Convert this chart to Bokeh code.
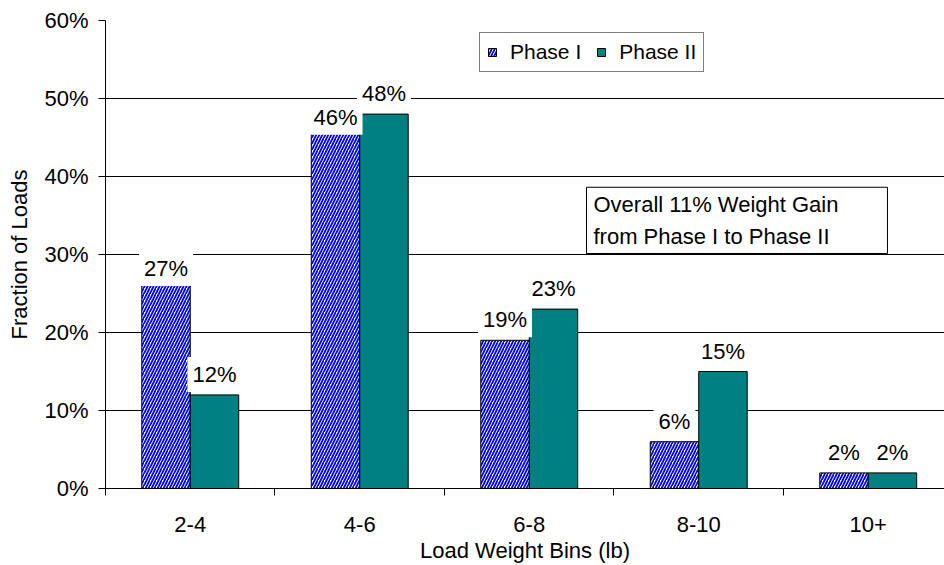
from bokeh.plotting import figure
from bokeh.models import (ColumnDataSource, FixedTicker, Range1d, Legend, LegendItem,
                          Label, PrintfTickFormatter)
from bokeh.core.properties import value
from bokeh.embed import file_html
from bokeh.resources import INLINE

# ---- data ----
categories = ["2-4", "4-6", "6-8", "8-10", "10+"]
phase1 = [27, 46, 19, 6, 2]
phase2 = [12, 48, 23, 15, 2]
y_ticks = [0, 10, 20, 30, 40, 50, 60]
series_names = ["Phase I", "Phase II"]
note_text = "Overall 11% Weight Gain\nfrom Phase I to Phase II"
x_title = "Load Weight Bins (lb)"
y_title = "Fraction of Loads"

# ---- style ----
FONT = "Liberation Sans"
FS = "22px"
BAR_W = 0.286
TEAL = "#008080"
HATCH_BLUE = "#0000ff"
label_dy1 = [8, 5, -3, -3, -3]   # screen-pixel nudges of the value labels
label_dy2 = [-3, -3, -3, -3, -3]

n = len(categories)
centers = [i + 0.5 for i in range(n)]
x1 = [c - BAR_W / 2 for c in centers]
x2 = [c + BAR_W / 2 for c in centers]

p = figure(width=944, height=565,
           x_range=Range1d(0, 4.95), y_range=Range1d(0, 60),
           output_backend="svg", toolbar_location=None,
           min_border_left=105, min_border_right=0,
           min_border_top=20, min_border_bottom=77)
p.outline_line_color = None
p.background_fill_color = "white"
p.border_fill_color = "white"

# grid
p.xgrid.visible = False
p.ygrid.ticker = FixedTicker(ticks=y_ticks)
p.ygrid.grid_line_color = "black"
p.ygrid.grid_line_width = 1

# y axis
yax = p.yaxis[0]
yax.ticker = FixedTicker(ticks=y_ticks)
yax.formatter = PrintfTickFormatter(format="%d%%")
yax.axis_label = y_title
yax.axis_label_text_font = FONT
yax.axis_label_text_font_size = FS
yax.axis_label_text_font_style = "normal"
yax.axis_label_text_color = "black"
yax.axis_label_standoff = 9
yax.major_label_text_font = FONT
yax.major_label_text_font_size = FS
yax.major_label_text_color = "black"
yax.major_label_standoff = 10
yax.major_tick_out = 7
yax.major_tick_in = 0
yax.minor_tick_line_color = None
yax.axis_line_color = "black"
yax.major_tick_line_color = "black"

# x axis
xax = p.xaxis[0]
xax.ticker = FixedTicker(ticks=centers, minor_ticks=list(range(n + 1)))
xax.major_label_overrides = {c: lab for c, lab in zip(centers, categories)}
xax.major_tick_line_color = None
xax.major_tick_out = 0
xax.major_tick_in = 0
xax.minor_tick_line_color = "black"
xax.minor_tick_out = 7
xax.minor_tick_in = 0
xax.axis_line_color = "black"
xax.major_label_text_font = FONT
xax.major_label_text_font_size = FS
xax.major_label_text_color = "black"
xax.major_label_standoff = 21
xax.axis_label = x_title
xax.axis_label_text_font = FONT
xax.axis_label_text_font_size = FS
xax.axis_label_text_font_style = "normal"
xax.axis_label_text_color = "black"
xax.axis_label_standoff = 3

# bars
r1 = p.vbar(x=x1, top=phase1, bottom=0, width=BAR_W,
            fill_color="white", hatch_pattern="/", hatch_color=HATCH_BLUE,
            hatch_scale=6, hatch_weight=1.8,
            line_color="black", line_width=1)
r2 = p.vbar(x=x2, top=phase2, bottom=0, width=BAR_W,
            fill_color=TEAL, line_color="black", line_width=1)

# value labels
lab_src = ColumnDataSource(dict(
    x=x1 + x2,
    y=phase1 + phase2,
    text=[f"{v}%" for v in phase1 + phase2],
    dy=label_dy1 + label_dy2,
))
p.text(x="x", y="y", text="text", y_offset="dy", source=lab_src,
       text_align="center", text_baseline="bottom",
       text_font=value(FONT), text_font_size=FS, text_color="black",
       background_fill_color="white", padding=5)

# legend
legend = Legend(items=[LegendItem(label=series_names[0], renderers=[r1]),
                       LegendItem(label=series_names[1], renderers=[r2])],
                orientation="horizontal", location=(374, 416),
                border_line_color="black", border_line_width=1,
                background_fill_color="white", background_fill_alpha=1,
                label_text_font=FONT, label_text_font_size="21px",
                label_text_color="black",
                glyph_width=10, glyph_height=10,
                padding=7, spacing=15, label_standoff=13)
p.add_layout(legend)

# note box
note = Label(x=481, y=235, x_units="screen", y_units="screen",
             text=note_text, text_font=FONT, text_font_size=FS,
             text_color="black", text_line_height=1.25,
             anchor="bottom_left",
             background_fill_color="white",
             border_line_color="black", border_line_width=1,
             padding=dict(left=7, right=49, top=5, bottom=5))
p.add_layout(note)

open("out.html", "w").write(file_html(p, INLINE))
